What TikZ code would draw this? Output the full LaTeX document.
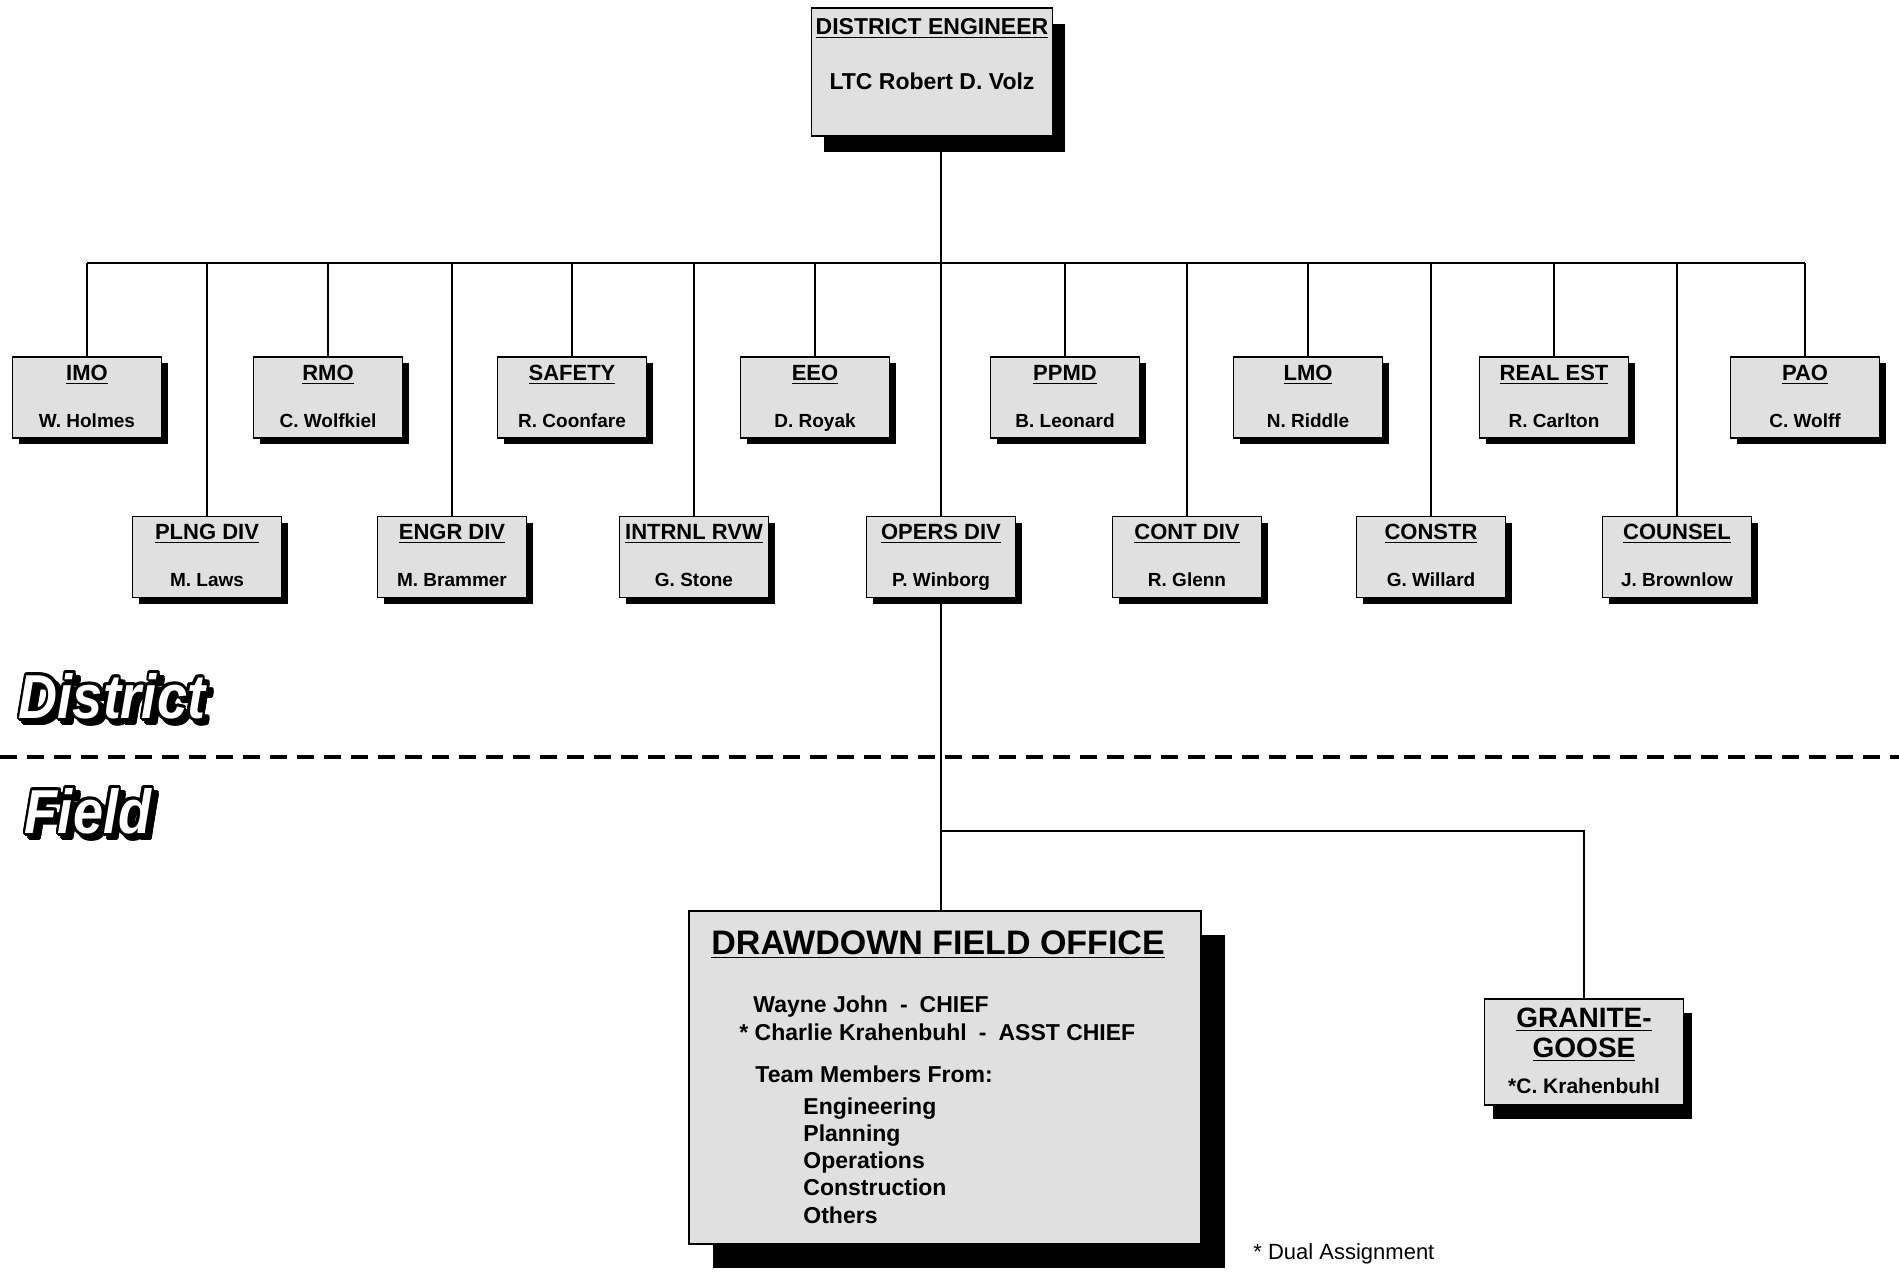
\documentclass[tikz,border=0pt]{standalone}
\usepackage{fontspec}
\setmainfont{Liberation Sans}
\usetikzlibrary{positioning,shadows}

\newcommand{\orgunit}[4]{%
        \node[unit] (#1) at (#2) {};
        \node[unittitle] (#1-t) at ([yshift=-12pt]#1.north) {\underline{#3}};
        \node[unitname] (#1-n) at ([yshift=5.75pt]#1.south) {#4};
}
\newcommand{\outlined}[3]{%
        \foreach \ang in {0,30,...,330} {
                \node[bigword, text=black, shift={(\ang:1.4pt)}, xshift=2.4pt, yshift=-2.4pt] at (#2) {\scalebox{1}[1.15]{#3}};
                \node[bigword, text=black, shift={(\ang:1.4pt)}] at (#2) {\scalebox{1}[1.15]{#3}};
        }
        \node[bigword, text=white] (#1) at (#2) {\scalebox{1}[1.15]{#3}};
}

\begin{document}
\begin{tikzpicture}[x=0.5pt,y=-0.5pt,
        box/.style={draw, fill=black!12, line width=0.7pt, inner sep=0pt},
        blackshadow/.style 2 args={drop shadow={shadow xshift=#1, shadow yshift=#2, opacity=1, fill=black}},
        unit/.style={box, minimum width=74.5pt, minimum height=40.5pt, blackshadow={3pt}{-3pt}},
        unittitle/.style={font=\fontsize{11}{13}\selectfont\bfseries, anchor=base, inner sep=0pt},
        unitname/.style={font=\fontsize{9.5}{11}\selectfont\bfseries, anchor=base, inner sep=0pt},
        toptext/.style={font=\fontsize{11.5}{14}\selectfont\bfseries, anchor=base, inner sep=0pt},
        bodytext/.style={font=\fontsize{11.5}{14}\selectfont\bfseries, anchor=base west, inner sep=0pt},
        bigword/.style={font=\fontsize{27}{30}\selectfont\bfseries\itshape, inner sep=0pt},
        wire/.style={line width=1pt}]

        \useasboundingbox (0,0) rectangle (1899,1271);

        \node[box, minimum width=120.5pt, minimum height=64pt, blackshadow={6pt}{-8pt}] (de) at (932,72) {};
        \node[toptext] (de-t) at ([yshift=-13.5pt]de.north) {\underline{DISTRICT ENGINEER}};
        \node[toptext] (de-n) at ([yshift=-41pt]de.north) {LTC Robert D. Volz};

        \orgunit{imo}{87,397.5}{IMO}{W. Holmes}
        \orgunit{rmo}{328,397.5}{RMO}{C. Wolfkiel}
        \orgunit{safety}{572,397.5}{SAFETY}{R. Coonfare}
        \orgunit{eeo}{815,397.5}{EEO}{D. Royak}
        \orgunit{ppmd}{1065,397.5}{PPMD}{B. Leonard}
        \orgunit{lmo}{1308,397.5}{LMO}{N. Riddle}
        \orgunit{realest}{1554,397.5}{REAL EST}{R. Carlton}
        \orgunit{pao}{1805,397.5}{PAO}{C. Wolff}

        \orgunit{plng}{207,557}{PLNG DIV}{M. Laws}
        \orgunit{engr}{452,557}{ENGR DIV}{M. Brammer}
        \orgunit{intrnl}{694,557}{INTRNL RVW}{G. Stone}
        \orgunit{opers}{941,557}{OPERS DIV}{P. Winborg}
        \orgunit{cont}{1187,557}{CONT DIV}{R. Glenn}
        \orgunit{constr}{1431,557}{CONSTR}{G. Willard}
        \orgunit{counsel}{1677,557}{COUNSEL}{J. Brownlow}

        \outlined{district}{112,696}{District}
        \outlined{field}{88,811}{Field}
        \draw[line width=2.2pt, dash pattern=on 8.5pt off 5pt] (0,757) -- (1899,757);

        \node[box, minimum width=256pt, minimum height=166.5pt, blackshadow={12pt}{-12pt}] (dfo) at (945,1077.5) {};
        \node[font=\fontsize{17}{20}\selectfont\bfseries, anchor=base west, inner sep=0pt] (dfo-t) at (711,954) {\underline{DRAWDOWN FIELD OFFICE}};
        \node[bodytext] (chief) at (753,1012) {Wayne John\hspace{6pt}-\hspace{6pt}CHIEF};
        \node[bodytext] (asst) at (739,1040) {* Charlie Krahenbuhl\hspace{6pt}-\hspace{6pt}ASST CHIEF};
        \node[bodytext] (team) at (755,1082) {Team Members From:};
        \foreach \dept [count=\i from 0] in {Engineering,Planning,Operations,Construction,Others}
                \node[bodytext] (dept-\i) at (803,1114+27.25*\i) {\dept};

        \node[box, minimum width=99.5pt, minimum height=53pt, blackshadow={4pt}{-7pt}] (gg) at (1584,1052) {};
        \node[font=\fontsize{14}{16}\selectfont\bfseries, anchor=base, inner sep=0pt] (gg-t1) at ([yshift=-14.5pt]gg.north) {\underline{GRANITE-}};
        \node[font=\fontsize{14}{16}\selectfont\bfseries, anchor=base, inner sep=0pt] (gg-t2) at ([yshift=-29.5pt]gg.north) {\underline{GOOSE}};
        \node[font=\fontsize{10.5}{12}\selectfont\bfseries, anchor=base, inner sep=0pt] (gg-n) at ([yshift=-47.5pt]gg.north) {*C. Krahenbuhl};

        \node[font=\fontsize{11}{13}\selectfont, anchor=base west, inner sep=0pt] (dual) at (1253,1259) {* Dual Assignment};

        \coordinate (bus) at (0,263);
        \coordinate (split) at (941,831);
        \draw[wire] (de.south -| opers.north) -- (opers.north);
        \draw[wire] (imo.north |- bus) -- (pao.north |- bus);
        \foreach \u in {imo,plng,rmo,engr,safety,intrnl,eeo,ppmd,cont,lmo,constr,realest,counsel,pao}
                \draw[wire] (\u.north) -- (\u.north |- bus);
        \draw[wire] (opers.south) -- (opers.south |- dfo.north);
        \draw[wire] (split) -| (gg.north);
    \end{tikzpicture}
\end{document}
